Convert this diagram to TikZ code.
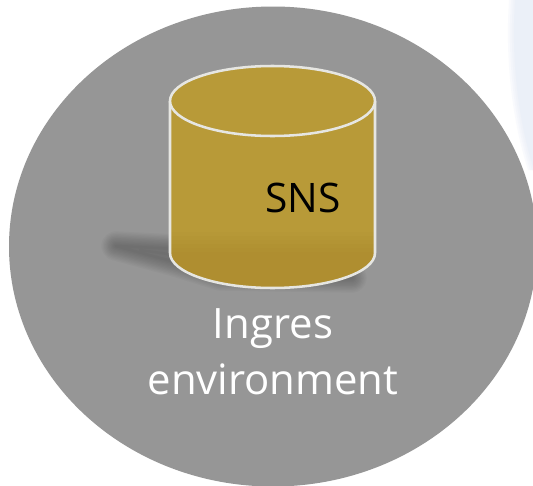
\documentclass[tikz,border=0pt]{standalone}
\usepackage{fontspec}
\setmainfont{Open Sans}
\definecolor{disc}{HTML}{969696}
\definecolor{gold}{HTML}{B89A38}
\definecolor{golddark}{HTML}{AF8E30}
\definecolor{rimc}{HTML}{E6E6E2}
\definecolor{band}{HTML}{E9EEF8}
\tikzset{
  rimline/.style={draw=rimc,line width=1.9pt},
  caption/.style={text=white,font=\fontsize{31.4pt}{42pt}\selectfont,align=center},
  shade blob/.style={draw=black,opacity=0.022,line join=round,line cap=round}
}
\begin{document}
\begin{tikzpicture}[x=0.75pt,y=-0.75pt]
\useasboundingbox (0,0) rectangle (533,486);
\begin{scope}
\clip (0,0) rectangle (533,486);
\fill[white] (0,0) rectangle (533,486);
% pale band at upper right
\foreach \d/\o in {-5/0.25,-3/0.25,-1/0.35,1/0.6}{
  \fill[band,opacity=\o] (514+\d,0) .. controls (510+\d,60) and (517+\d,120) .. (533+\d,170) -- (560,170) -- (560,0) -- cycle;
}
% disc
\fill[disc] (273,246.5) ellipse [x radius=264, y radius=240];
\end{scope}
% soft shadow
\foreach \w in {22,20,...,2}{
  \path[shade blob,line width=\w pt] (116,246) -- (175,249) -- (175,262) -- cycle
    (140,250) -- (175,255)
    (175,262) -- (220,276) -- (352,278);
}
% cylinder body
\fill[gold] (170,101) -- (170,253) arc [start angle=180,end angle=0,x radius=102.5,y radius=35] -- (375,101) -- cycle;
\begin{scope}
\clip (170,101) -- (170,253) arc [start angle=180,end angle=0,x radius=102.5,y radius=35] -- (375,101) -- cycle;
\foreach \y/\o in {232/0.12,236/0.15,240/0.2,244/0.25,248/0.3,252/0.5}{
  \fill[golddark,opacity=\o] (165,\y) rectangle (380,292);
}
\end{scope}
\node[inner sep=0pt,text=black,font=\fontsize{30.5pt}{34pt}\selectfont] (sns) at (303,197.5) {SNS};
\draw[rimline] (170,101) -- (170,253) arc [start angle=180,end angle=0,x radius=102.5,y radius=35] -- (375,101);
\fill[gold] (272.5,101) ellipse [x radius=102.5,y radius=35];
\draw[rimline] (272.5,101) ellipse [x radius=102.5,y radius=35];
\node[caption,inner sep=0pt] (cap) at (273,352) {Ingres\\environment};
\end{tikzpicture}
\end{document}
